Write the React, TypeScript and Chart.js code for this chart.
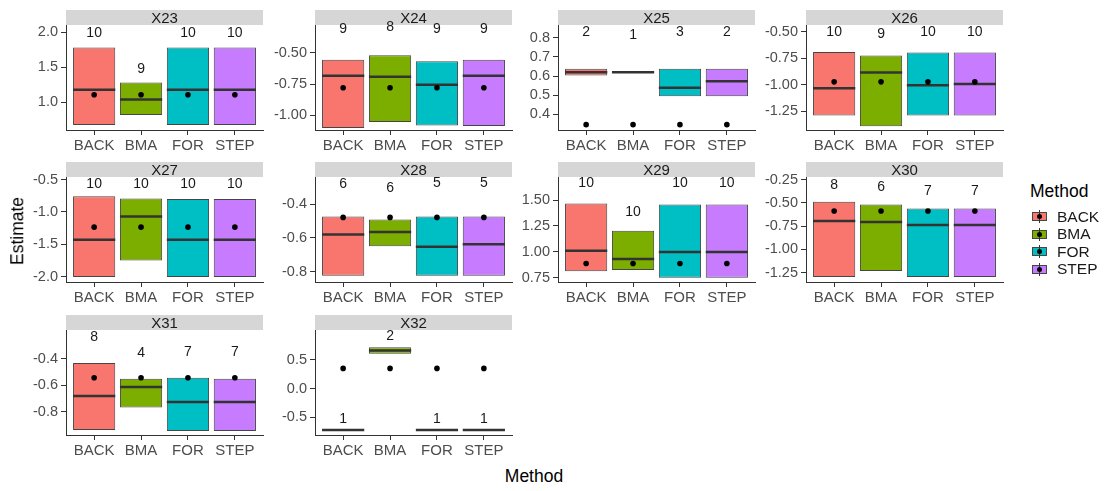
import React, { useEffect, useRef } from "react";
import { Chart, registerables } from "chart.js";

Chart.register(...registerables);

// ---------------- data ----------------
const METHODS = ["BACK", "BMA", "FOR", "STEP"];
const PANELS = ["X23", "X24", "X25", "X26", "X27", "X28", "X29", "X30", "X31", "X32"];

// lower edge of each crossbar (per panel, per method)
const LOWER = [
  [0.67, 0.815, 0.67, 0.67],
  [-1.103, -1.055, -1.083, -1.088],
  [0.603, 0.62, 0.495, 0.495],
  [-1.288, -1.389, -1.288, -1.288],
  [-2.005, -1.75, -2.005, -2.005],
  [-0.825, -0.649, -0.825, -0.825],
  [0.813, 0.823, 0.749, 0.749],
  [-1.296, -1.232, -1.296, -1.296],
  [-0.9375, -0.7675, -0.945, -0.945],
  [-0.718, 0.603, -0.718, -0.718],
];
// upper edge of each crossbar
const UPPER = [
  [1.78, 1.28, 1.78, 1.78],
  [-0.555, -0.519, -0.566, -0.555],
  [0.638, 0.62, 0.638, 0.638],
  [-0.691, -0.723, -0.695, -0.695],
  [-0.755, -0.791, -0.801, -0.801],
  [-0.473, -0.49, -0.473, -0.473],
  [1.468, 1.203, 1.458, 1.458],
  [-0.488, -0.516, -0.559, -0.559],
  [-0.4325, -0.55, -0.5425, -0.55],
  [-0.718, 0.718, -0.718, -0.718],
];
// middle line of each crossbar
const MEDIAN = [
  [1.174, 1.034, 1.174, 1.174],
  [-0.684, -0.692, -0.755, -0.684],
  [0.62, 0.62, 0.539, 0.573],
  [-1.032, -0.885, -1.003, -0.993],
  [-1.429, -1.071, -1.429, -1.429],
  [-0.58, -0.565, -0.653, -0.637],
  [1.011, 0.931, 0.998, 0.998],
  [-0.693, -0.704, -0.736, -0.736],
  [-0.68, -0.6125, -0.725, -0.725],
  [-0.718, 0.661, -0.718, -0.718],
];
// black dot (true value) per panel
const TRUTH = [1.104, -0.78, 0.347, -0.972, -1.235, -0.478, 0.887, -0.587, -0.5425, 0.351];
// count labels and their heights
const COUNTS = [
  [10, 9, 10, 10],
  [9, 8, 9, 9],
  [2, 1, 3, 2],
  [10, 9, 10, 10],
  [10, 10, 10, 10],
  [6, 6, 5, 5],
  [10, 10, 10, 10],
  [8, 6, 7, 7],
  [8, 4, 7, 7],
  [1, 2, 1, 1],
];
const LABEL_Y = [
  [1.98, 1.47, 1.98, 1.98],
  [-0.31, -0.295, -0.31, -0.31],
  [0.828, 0.814, 0.828, 0.828],
  [-0.5, -0.519, -0.5, -0.5],
  [-0.57, -0.57, -0.57, -0.57],
  [-0.278, -0.302, -0.275, -0.275],
  [1.66, 1.388, 1.66, 1.66],
  [-0.31, -0.328, -0.371, -0.371],
  [-0.2375, -0.3575, -0.35, -0.35],
  [-0.529, 0.902, -0.529, -0.529],
];
// y axes
const Y_TICKS = [
  [1.0, 1.5, 2.0],
  [-1.0, -0.75, -0.5],
  [0.4, 0.5, 0.6, 0.7, 0.8],
  [-1.25, -1.0, -0.75, -0.5],
  [-2.0, -1.5, -1.0, -0.5],
  [-0.8, -0.6, -0.4],
  [0.75, 1.0, 1.25, 1.5],
  [-1.25, -1.0, -0.75, -0.5, -0.25],
  [-0.8, -0.6, -0.4],
  [-0.5, 0.0, 0.5],
];
const Y_DECIMALS = [1, 2, 1, 2, 1, 1, 2, 2, 1, 1];
const Y_MIN = [0.6, -1.12, 0.319, -1.425, -2.083, -0.862, 0.708, -1.349, -0.975, -0.805];
const Y_MAX = [2.1, -0.275, 0.866, -0.437, -0.459, -0.238, 1.724, -0.222, -0.1825, 1.017];

// ---------------- style / layout ----------------
const COLORS = ["#F8766D", "#7CAE00", "#00BFC4", "#C77CFF"];
const FONT = "'Liberation Sans', Arial, Helvetica, sans-serif";
const COL_LEFT = [66, 315, 558, 806];
const ROW_STRIP_TOP = [10, 162, 315];
const PLOT_W = 197;
const PLOT_H = 105;
const STRIP_H = 15;
const AXW = 50;
const XAXH = 30;
const RPAD = 4;

function Panel({ idx }: { idx: number }) {
  const ref = useRef<HTMLCanvasElement | null>(null);
  const col = idx % 4;
  const row = Math.floor(idx / 4);
  const W = AXW + PLOT_W + RPAD;
  const H = STRIP_H + PLOT_H + XAXH;

  useEffect(() => {
    if (!ref.current) return;
    const decor = {
      id: "panelDecor",
      beforeDraw(chart: any) {
        const { ctx, chartArea } = chart;
        ctx.save();
        ctx.fillStyle = "#d6d6d6";
        ctx.fillRect(chartArea.left, chartArea.top - STRIP_H, chartArea.right - chartArea.left, STRIP_H);
        ctx.fillStyle = "#1a1a1a";
        ctx.font = `15px ${FONT}`;
        ctx.textAlign = "center";
        ctx.textBaseline = "middle";
        ctx.fillText(PANELS[idx], (chartArea.left + chartArea.right) / 2, chartArea.top - STRIP_H / 2 + 1);
        ctx.restore();
      },
      afterDatasetsDraw(chart: any) {
        const { ctx } = chart;
        const xs = chart.scales.x;
        const ys = chart.scales.y;
        ctx.save();
        ctx.fillStyle = "#1a1a1a";
        ctx.font = `14px ${FONT}`;
        ctx.textAlign = "center";
        ctx.textBaseline = "middle";
        COUNTS[idx].forEach((c, j) => {
          ctx.fillText(String(c), xs.getPixelForValue(j + 1), ys.getPixelForValue(LABEL_Y[idx][j]));
        });
        ctx.restore();
      },
    };

    const chart = new Chart(ref.current, {
      type: "bar",
      data: {
        datasets: [
          {
            type: "scatter",
            data: METHODS.map((_, j) => ({ x: j + 1, y: TRUTH[idx] })),
            pointRadius: 2.8,
            pointBackgroundColor: "#000",
            pointBorderWidth: 0,
            order: 1,
          } as any,
          {
            type: "scatter",
            data: MEDIAN[idx].map((m, j) => ({ x: j + 1, y: m })),
            pointStyle: "line",
            pointRadius: (c: any) => {
              const s = c.chart.scales.x;
              return s ? s.getPixelForValue(1.45) - s.getPixelForValue(1) : 20;
            },
            pointBorderColor: "#333333",
            pointBorderWidth: 2.5,
            order: 2,
          } as any,
          {
            type: "bar",
            data: LOWER[idx].map((lo, j) => ({ x: j + 1, y: [lo, UPPER[idx][j]] })),
            backgroundColor: COLORS,
            borderColor: "#454545",
            borderWidth: 1,
            borderSkipped: false,
            barPercentage: 0.9,
            categoryPercentage: 1,
            order: 3,
          } as any,
        ],
      },
      options: {
        animation: false,
        responsive: false,
        maintainAspectRatio: false,
        devicePixelRatio: 1,
        layout: { padding: { top: STRIP_H, right: RPAD, left: 0, bottom: 0 } },
        plugins: { legend: { display: false }, tooltip: { enabled: false } },
        events: [],
        scales: {
          x: {
            type: "linear",
            min: 0.4,
            max: 4.6,
            offset: false,
            afterBuildTicks: (s: any) => {
              s.ticks = METHODS.map((_, j) => ({ value: j + 1 }));
            },
            afterFit: (s: any) => {
              s.height = XAXH;
            },
            grid: {
              display: true,
              offset: false,
              drawOnChartArea: false,
              drawTicks: true,
              tickLength: 5,
              color: "#333333",
              tickColor: "#333333",
              tickWidth: 1,
              lineWidth: 1,
            },
            border: { display: true, color: "#333333", width: 1 },
            ticks: {
              autoSkip: false,
              maxRotation: 0,
              padding: 2,
              color: "#4d4d4d",
              font: { family: FONT, size: 15 },
              callback: (v: any) => METHODS[Math.round(Number(v)) - 1] ?? "",
            },
          },
          y: {
            type: "linear",
            min: Y_MIN[idx],
            max: Y_MAX[idx],
            afterBuildTicks: (s: any) => {
              s.ticks = Y_TICKS[idx].map((v) => ({ value: v }));
            },
            afterFit: (s: any) => {
              s.width = AXW;
            },
            grid: {
              display: true,
              offset: false,
              drawOnChartArea: false,
              drawTicks: true,
              tickLength: 5,
              color: "#333333",
              tickColor: "#333333",
              tickWidth: 1,
              lineWidth: 1,
            },
            border: { display: true, color: "#333333", width: 1 },
            ticks: {
              autoSkip: false,
              padding: 3,
              color: "#4d4d4d",
              font: { family: FONT, size: 14.5 },
              callback: (v: any) => Number(v).toFixed(Y_DECIMALS[idx]),
            },
          },
        },
      } as any,
      plugins: [decor],
    });
    return () => chart.destroy();
  }, [idx]);

  return (
    <canvas
      ref={ref}
      width={W}
      height={H}
      style={{
        position: "absolute",
        left: COL_LEFT[col] - AXW,
        top: ROW_STRIP_TOP[row],
        width: W,
        height: H,
      }}
    />
  );
}

function LegendKey({ color, cy }: { color: string; cy: number }) {
  return (
    <div style={{ position: "absolute", left: 1031, top: cy - 8.5, width: 17, height: 17 }}>
      <div
        style={{
          position: "absolute",
          left: 1,
          top: 4,
          width: 15,
          height: 9,
          background: color,
          border: "1px solid #454545",
          boxSizing: "border-box",
        }}
      />
      <div style={{ position: "absolute", left: 8, top: 2, width: 1, height: 13, background: "#333" }} />
      <div
        style={{
          position: "absolute",
          left: 6,
          top: 6,
          width: 5,
          height: 5,
          borderRadius: "50%",
          background: "#000",
        }}
      />
    </div>
  );
}

export default function App() {
  const legendY = [216.7, 234.2, 251.7, 269.2];
  return (
    <div
      style={{
        position: "absolute",
        left: 0,
        top: 0,
        width: 1111,
        height: 491,
        background: "#fff",
        fontFamily: FONT,
        overflow: "hidden",
      }}
    >
      {PANELS.map((_, i) => (
        <Panel key={i} idx={i} />
      ))}
      <div
        style={{
          position: "absolute",
          left: 18,
          top: 231,
          transform: "translate(-50%, -50%) rotate(-90deg)",
          fontSize: 17.5,
          color: "#000",
          whiteSpace: "nowrap",
          lineHeight: 1,
        }}
      >
        Estimate
      </div>
      <div
        style={{
          position: "absolute",
          left: 534,
          top: 477,
          transform: "translate(-50%, -50%)",
          fontSize: 17.5,
          color: "#000",
          whiteSpace: "nowrap",
          lineHeight: 1,
        }}
      >
        Method
      </div>
      <div
        style={{
          position: "absolute",
          left: 1030,
          top: 192,
          transform: "translateY(-50%)",
          fontSize: 17.5,
          color: "#000",
          whiteSpace: "nowrap",
          lineHeight: 1,
        }}
      >
        Method
      </div>
      {METHODS.map((m, j) => (
        <React.Fragment key={m}>
          <LegendKey color={COLORS[j]} cy={legendY[j]} />
          <div
            style={{
              position: "absolute",
              left: 1057,
              top: legendY[j],
              transform: "translateY(-50%)",
              fontSize: 15.5,
              color: "#1a1a1a",
              whiteSpace: "nowrap",
              lineHeight: 1,
            }}
          >
            {m}
          </div>
        </React.Fragment>
      ))}
    </div>
  );
}
